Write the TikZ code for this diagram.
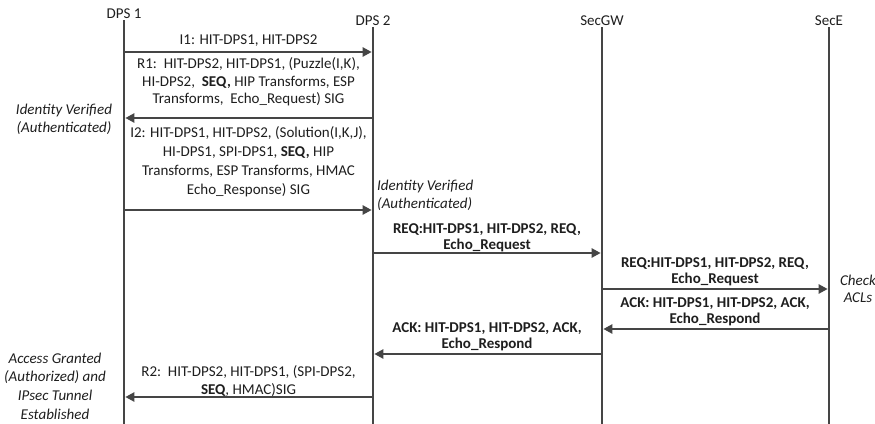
\documentclass[tikz,border=0pt]{standalone}
\usepackage{fontspec}
\setmainfont{Carlito}
\usetikzlibrary{arrows.meta,positioning}
\definecolor{ink}{HTML}{454545}
\definecolor{txt}{HTML}{1E1E1E}
\tikzset{
head/.style={font=\fontsize{15}{17}\selectfont,text=txt,inner sep=1pt},
life/.style={line width=2.6pt,ink},
msg/.style={-{Triangle[length=9pt,width=9pt]},line width=2.3pt,ink,shorten >=1.3pt},
lbl/.style={font=\fontsize{15}{17.7}\selectfont,text=txt,align=center,inner sep=0pt},
blbl/.style={lbl,font=\fontsize{15}{16.5}\selectfont\bfseries},
note/.style={lbl,font=\fontsize{15}{18}\selectfont\itshape}
}

\begin{document}
\begin{tikzpicture}[x=1pt,y=-1pt]
\useasboundingbox (0,0) rectangle (875,423);
\coordinate (bottom) at (0,426);

% lifelines
\node[head] (dps1) at (124,14) {DPS 1};
\node[head] (dps2) at (373,21) {DPS 2};
\node[head] (secgw) at (602,21) {SecGW};
\node[head] (sece) at (829,21) {SecE};
\foreach \n in {dps1,dps2,secgw,sece}
  \draw[life] (\n.south) -- (\n |- bottom);

% message end points
\coordinate (i1a) at (124,52);  \coordinate (i1b) at (373,52);
\coordinate (r1a) at (373,118); \coordinate (r1b) at (124,118);
\coordinate (i2a) at (124,210); \coordinate (i2b) at (373,210);
\coordinate (q1a) at (373,253); \coordinate (q1b) at (602,253);
\coordinate (q2a) at (602,289); \coordinate (q2b) at (829,289);
\coordinate (k1a) at (829,329); \coordinate (k1b) at (602,329);
\coordinate (k2a) at (602,354); \coordinate (k2b) at (373,354);
\coordinate (r2a) at (373,397); \coordinate (r2b) at (124,397);

\draw[msg] (i1a) -- (i1b);
\draw[msg] (r1a) -- (r1b);
\draw[msg] (i2a) -- (i2b);
\draw[msg] (q1a) -- (q1b);
\draw[msg] (q2a) -- (q2b);
\draw[msg] (k1a) -- (k1b);
\draw[msg] (k2a) -- (k2b);
\draw[msg] (r2a) -- (r2b);

% labels
\node[lbl] (i1) at (248.5,41) {I1: HIT-DPS1, HIT-DPS2};
\node[lbl] (r1) at (248.5,82) {R1:\ \ HIT-DPS2, HIT-DPS1, (Puzzle(I,K),\\
  HI-DPS2,\ \ \textbf{SEQ,} HIP Transforms, ESP\\
  Transforms,\ \ Echo\_Request) SIG};
\node[lbl,font=\fontsize{15}{19}\selectfont] (i2) at (248.5,162) {I2: HIT-DPS1, HIT-DPS2, (Solution(I,K,J),\\
  HI-DPS1, SPI-DPS1, \textbf{SEQ,} HIP\\
  Transforms, ESP Transforms, HMAC\\
  Echo\_Response) SIG};
\node[blbl] (q1) at (487,238) {REQ:HIT-DPS1, HIT-DPS2, REQ,\\ Echo\_Request};
\node[blbl] (q2) at (715,272) {REQ:HIT-DPS1, HIT-DPS2, REQ,\\ Echo\_Request};
\node[blbl] (k1) at (715,312) {ACK: HIT-DPS1, HIT-DPS2, ACK,\\ Echo\_Respond};
\node[blbl] (k2) at (487,337) {ACK: HIT-DPS1, HIT-DPS2, ACK,\\ Echo\_Respond};
\node[lbl] (r2) at (248.5,381) {R2:\ \ HIT-DPS2, HIT-DPS1, (SPI-DPS2,\\
  \textbf{SEQ}, HMAC)SIG};

% notes
\node[note] (auth1) at (64,119) {Identity Verified\\ (Authenticated)};
\node[note,align=left,anchor=west] (auth2) at (377,195) {Identity Verified\\ (Authenticated)};
\node[note,font=\fontsize{15}{17}\selectfont\itshape] (acl) at (858,289) {Check\\ ACLs};
\node[note,font=\fontsize{15}{18.6}\selectfont\itshape] (grant) at (55,386) {Access Granted\\ (Authorized) and\\ IPsec Tunnel\\ Established};
\end{tikzpicture}
\end{document}
